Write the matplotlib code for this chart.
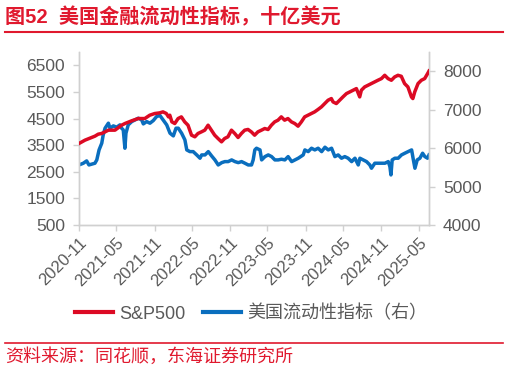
import matplotlib
matplotlib.use("Agg")
import matplotlib.pyplot as plt
import pandas as pd
from matplotlib.lines import Line2D

plt.rcParams['font.family'] = ['Liberation Sans', 'Noto Sans CJK SC', 'DejaVu Sans']

# ---------------- data ----------------
sp_dates = [
    "2020-11-01", "2020-11-30", "2021-01-01", "2021-01-17", "2021-02-02", "2021-02-18",
    "2021-03-07", "2021-03-23", "2021-04-24", "2021-05-26", "2021-06-11", "2021-07-13",
    "2021-08-14", "2021-09-15", "2021-10-09", "2021-11-02", "2021-11-26", "2021-12-12",
    "2021-12-28", "2022-01-08", "2022-01-14", "2022-01-24", "2022-02-07", "2022-02-23",
    "2022-03-11", "2022-03-27", "2022-04-12", "2022-04-29", "2022-05-15", "2022-05-30",
    "2022-06-16", "2022-07-02", "2022-07-18", "2022-08-03", "2022-08-19", "2022-09-04",
    "2022-09-21", "2022-10-06", "2022-10-22", "2022-11-08", "2022-11-24", "2022-12-10",
    "2022-12-26", "2023-01-11", "2023-01-27", "2023-02-12", "2023-02-28", "2023-03-16",
    "2023-04-02", "2023-04-18", "2023-05-04", "2023-05-20", "2023-06-05", "2023-06-21",
    "2023-07-07", "2023-07-23", "2023-08-08", "2023-08-25", "2023-09-10", "2023-09-26",
    "2023-10-12", "2023-10-28", "2023-11-13", "2023-11-29", "2023-12-15", "2023-12-31",
    "2024-01-17", "2024-02-02", "2024-02-18", "2024-03-05", "2024-03-13", "2024-03-29",
    "2024-04-14", "2024-04-30", "2024-05-17", "2024-06-02", "2024-06-18", "2024-07-04",
    "2024-07-20", "2024-07-28", "2024-08-13", "2024-08-29", "2024-09-14", "2024-09-30",
    "2024-10-16", "2024-11-02", "2024-11-18", "2024-12-04", "2024-12-20", "2025-01-05",
    "2025-01-21", "2025-02-06", "2025-02-22", "2025-03-10", "2025-03-27", "2025-04-03",
    "2025-04-12", "2025-04-28", "2025-05-14", "2025-05-30", "2025-06-15", "2025-06-20",
]
sp_values = [
    3563, 3688, 3788, 3838, 3913, 3938,
    4000, 4063, 4063, 4250, 4313, 4413,
    4500, 4500, 4625, 4688, 4713, 4750,
    4690, 4560, 4625, 4375, 4313, 4500,
    4563, 4375, 4250, 3875, 3813, 3938,
    4000, 4063, 4250, 4063, 3875, 3750,
    3625, 3750, 3813, 4063, 3938, 3788,
    3938, 4063, 4090, 4000, 3875, 4000,
    4063, 4125, 4088, 4250, 4375, 4438,
    4563, 4438, 4500, 4375, 4313, 4213,
    4375, 4563, 4625, 4688, 4750, 4838,
    4938, 5063, 5188, 5250, 5125, 5063,
    5188, 5313, 5438, 5500, 5563, 5625,
    5313, 5563, 5688, 5750, 5813, 5875,
    5938, 6000, 6125, 6000, 5938, 6063,
    6125, 6088, 5813, 5688, 5313, 5250,
    5500, 5813, 5938, 6000, 6213, 6286,
]

liq_dates = [
    "2020-11-01", "2020-11-22", "2020-12-08", "2020-12-19", "2021-01-17", "2021-01-26",
    "2021-02-06", "2021-02-19", "2021-02-26", "2021-03-07", "2021-03-23", "2021-03-31",
    "2021-04-16", "2021-05-02", "2021-05-18", "2021-05-26", "2021-06-03", "2021-06-11",
    "2021-06-16", "2021-06-27", "2021-07-14", "2021-07-30", "2021-08-15", "2021-08-31",
    "2021-09-08", "2021-09-24", "2021-10-10", "2021-10-26", "2021-11-11", "2021-11-27",
    "2021-12-09", "2021-12-30", "2022-01-15", "2022-01-31", "2022-02-13", "2022-02-24",
    "2022-03-12", "2022-03-28", "2022-04-06", "2022-04-21", "2022-05-07", "2022-05-24",
    "2022-06-09", "2022-06-17", "2022-07-03", "2022-07-19", "2022-08-04", "2022-08-20",
    "2022-09-05", "2022-09-22", "2022-10-07", "2022-10-23", "2022-11-09", "2022-11-25",
    "2022-12-11", "2022-12-27", "2023-01-12", "2023-01-28", "2023-02-13", "2023-02-21",
    "2023-03-01", "2023-03-09", "2023-03-26", "2023-04-03", "2023-04-19", "2023-05-05",
    "2023-05-21", "2023-06-06", "2023-06-22", "2023-07-08", "2023-07-24", "2023-08-09",
    "2023-08-26", "2023-09-11", "2023-09-27", "2023-10-21", "2023-10-29", "2023-11-14",
    "2023-11-30", "2023-12-16", "2024-01-01", "2024-01-18", "2024-02-03", "2024-02-19",
    "2024-03-06", "2024-03-22", "2024-04-07", "2024-04-23", "2024-05-09", "2024-05-25",
    "2024-06-11", "2024-06-27", "2024-07-13", "2024-07-21", "2024-08-06", "2024-08-22",
    "2024-09-07", "2024-09-15", "2024-10-01", "2024-10-17", "2024-11-03", "2024-11-19",
    "2024-12-05", "2024-12-13", "2024-12-18", "2024-12-24", "2025-01-06", "2025-01-22",
    "2025-02-07", "2025-02-23", "2025-03-11", "2025-03-28", "2025-04-04", "2025-04-13",
    "2025-04-24", "2025-05-07", "2025-05-20", "2025-05-31", "2025-06-13", "2025-06-20",
]
liq_values = [
    5562, 5607, 5667, 5562, 5607, 5693,
    5953, 6127, 6343, 6518, 6648, 6518,
    6578, 6544, 6604, 6518, 6474, 5997,
    6388, 6604, 6690, 6734, 6778, 6734,
    6630, 6690, 6648, 6716, 6820, 6850,
    6760, 6604, 6388, 6318, 6518, 6518,
    6388, 6213, 5953, 5909, 5909, 5823,
    5737, 5823, 5823, 5909, 5797, 5693,
    5562, 5622, 5649, 5649, 5693, 5649,
    5622, 5649, 5607, 5562, 5562, 5693,
    5953, 5997, 5953, 5693, 5779, 5823,
    5779, 5693, 5693, 5711, 5693, 5779,
    5649, 5693, 5737, 5823, 5953, 5909,
    5997, 5953, 5997, 5909, 6023, 5953,
    5997, 5779, 5823, 5737, 5779, 5737,
    5649, 5737, 5562, 5737, 5693, 5649,
    5562, 5476, 5607, 5607, 5607, 5607,
    5649, 5518, 5302, 5693, 5737, 5737,
    5823, 5867, 5909, 5953, 5737, 5476,
    5693, 5737, 5867, 5779, 5737, 5823,
]

x_ticks = ["2020-11", "2021-05", "2021-11", "2022-05", "2022-11",
           "2023-05", "2023-11", "2024-05", "2024-11", "2025-05"]
left_ticks = [500, 1500, 2500, 3500, 4500, 5500, 6500]
right_ticks = [4000, 5000, 6000, 7000, 8000]

title = "图52  美国金融流动性指标，十亿美元"
source = "资料来源：同花顺，东海证券研究所"
sp_label = "S&P500"
liq_label = "美国流动性指标（右）"

# ---------------- styles ----------------
RED = "#DC0A24"
BLUE = "#0A6EBE"
TITLE_RED = "#E0192E"
GRAY = "#595959"
SPINE = "#D0D0D0"

W, H = 509, 371
fig = plt.figure(figsize=(W / 100, H / 100), dpi=100)
ax = fig.add_axes([79 / W, 1 - 225 / H, (429 - 79) / W, (225 - 52) / H])
ax2 = ax.twinx()

sp_x = pd.to_datetime(sp_dates)
liq_x = pd.to_datetime(liq_dates)

ax.plot(sp_x, sp_values, color=RED, lw=2.5, solid_joinstyle="round", zorder=3)
ax2.plot(liq_x, liq_values, color=BLUE, lw=2.5, solid_joinstyle="round", zorder=2)
ax.set_zorder(ax2.get_zorder() + 1)
ax.patch.set_visible(False)

ax.set_xlim(pd.Timestamp("2020-11-01"), pd.Timestamp("2025-06-20"))
ax.set_ylim(500, 7000)
ax2.set_ylim(4000, 8500)
ax.set_yticks(left_ticks)
ax2.set_yticks(right_ticks)
ax.set_xticks(pd.to_datetime([t + "-01" for t in x_ticks]))
ax.set_xticklabels(x_ticks, rotation=45, ha="right", va="top", rotation_mode="anchor")

for a in (ax, ax2):
    for s in a.spines.values():
        s.set_color(SPINE)
        s.set_linewidth(1.0)
    a.spines["top"].set_visible(False)
    a.tick_params(colors=SPINE, labelcolor=GRAY, labelsize=12.5, length=4, width=1)
ax.tick_params(axis="y", pad=6)
ax2.tick_params(axis="y", pad=6)
ax.tick_params(axis="x", labelsize=12, pad=3)

# legend
handles = [Line2D([], [], color=RED, lw=3), Line2D([], [], color=BLUE, lw=3)]
fig.legend(handles, [sp_label, liq_label], loc="center", bbox_to_anchor=(251 / W, 1 - 314 / H),
           ncol=2, frameon=False, fontsize=13, handlelength=2.1, handletextpad=0.35,
           columnspacing=1.0, labelcolor=GRAY)

# title and rules
fig.text(5 / W, 1 - 17 / H, title, color=TITLE_RED, fontsize=14.5, fontweight="bold",
         ha="left", va="center")
fig.add_artist(Line2D([5 / W, 503 / W], [1 - 32 / H, 1 - 32 / H], color=TITLE_RED, lw=1.5))
fig.add_artist(Line2D([5 / W, 503 / W], [1 - 342.5 / H, 1 - 342.5 / H], color=TITLE_RED, lw=1.2))
fig.text(5 / W, 1 - 357 / H, source, color=TITLE_RED, fontsize=13, ha="left", va="center")

fig.savefig("out.png", dpi=100)
